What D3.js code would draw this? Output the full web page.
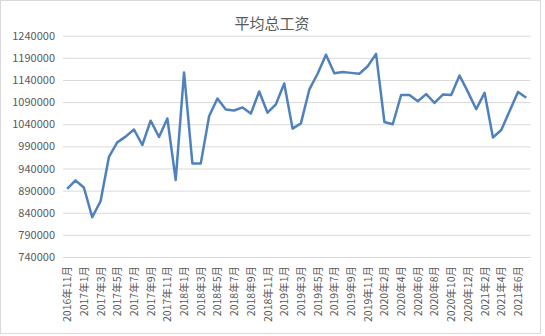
<!DOCTYPE html>
<html>
<head>
<meta charset="utf-8">
<script src="https://cdn.jsdelivr.net/npm/d3@7"></script>
<style>
  body { margin: 0; background: #fff; }
  svg text { font-family: "Noto Sans CJK SC", "Noto Sans", sans-serif; }
</style>
</head>
<body>
<div id="chart"></div>
<script>
// months (2020-01 is missing in the source)
var months = [
  "2016年11月","2016年12月",
  "2017年1月","2017年2月","2017年3月","2017年4月","2017年5月","2017年6月",
  "2017年7月","2017年8月","2017年9月","2017年10月","2017年11月","2017年12月",
  "2018年1月","2018年2月","2018年3月","2018年4月","2018年5月","2018年6月",
  "2018年7月","2018年8月","2018年9月","2018年10月","2018年11月","2018年12月",
  "2019年1月","2019年2月","2019年3月","2019年4月","2019年5月","2019年6月",
  "2019年7月","2019年8月","2019年9月","2019年10月","2019年11月","2019年12月",
  "2020年2月","2020年3月","2020年4月","2020年5月","2020年6月","2020年7月",
  "2020年8月","2020年9月","2020年10月","2020年11月","2020年12月",
  "2021年1月","2021年2月","2021年3月","2021年4月","2021年5月","2021年6月","2021年7月"
];

var wages = [
  894000, 913000, 897000, 830000, 866000, 966000, 999000, 1012000, 1028000, 993000,
  1048000, 1011000, 1053000, 914000, 1157000, 951000, 951000, 1058000, 1098000, 1073000,
  1071000, 1078000, 1064000, 1114000, 1066000, 1085000, 1132000, 1030000, 1042000, 1118000,
  1154000, 1197000, 1155000, 1158000, 1156000, 1154000, 1171000, 1199000, 1045000, 1040000,
  1106000, 1106000, 1092000, 1108000, 1088000, 1107000, 1106000, 1150000, 1113000, 1074000,
  1111000, 1010000, 1027000, 1070000, 1113000, 1100000
];

var yTicks = [740000, 790000, 840000, 890000, 940000, 990000, 1040000, 1090000, 1140000, 1190000, 1240000];

var width = 545, height = 336;
var plotLeft = 63, plotRight = 530.5, plotTop = 35.7, plotBottom = 257;

var svg = d3.select("#chart").append("svg")
    .attr("width", width)
    .attr("height", height);

svg.append("rect")
    .attr("x", 0.5).attr("y", 0.5)
    .attr("width", 540).attr("height", 333)
    .attr("fill", "#fff")
    .attr("stroke", "#d9d9d9");

svg.append("text")
    .attr("x", 272)
    .attr("y", 29)
    .attr("text-anchor", "middle")
    .attr("font-size", "15px")
    .attr("fill", "#595959")
    .text("平均总工资");

var x = d3.scaleBand()
    .domain(months)
    .range([plotLeft, plotRight]);

var y = d3.scaleLinear()
    .domain([740000, 1240000])
    .range([plotBottom, plotTop]);

// gridlines + y labels
var yAxis = d3.axisLeft(y)
    .tickValues(yTicks)
    .tickSize(-(plotRight - plotLeft))
    .tickPadding(8)
    .tickFormat(d3.format("d"));

var gy = svg.append("g")
    .attr("transform", "translate(" + plotLeft + ",0)")
    .call(yAxis);
gy.select(".domain").remove();
gy.selectAll("line").attr("stroke", "#d9d9d9");
gy.selectAll("text")
    .attr("font-size", "11px")
    .attr("fill", "#595959");

// x labels, every other month, rotated
var xAxis = d3.axisBottom(x)
    .tickValues(months.filter(function(d, i) { return i % 2 == 0; }))
    .tickSize(0)
    .tickPadding(0);

var gx = svg.append("g")
    .attr("transform", "translate(0," + plotBottom + ")")
    .call(xAxis);
gx.select(".domain").remove();
gx.selectAll("text")
    .attr("font-size", "10.5px")
    .attr("fill", "#595959")
    .attr("text-anchor", "end")
    .attr("dy", null)
    .attr("y", 0)
    .attr("transform", "translate(4,9) rotate(-90)");

var line = d3.line()
    .x(function(d, i) { return x(months[i]) + x.bandwidth() / 2; })
    .y(function(d) { return y(d); });

svg.append("path")
    .datum(wages)
    .attr("d", line)
    .attr("fill", "none")
    .attr("stroke", "#4f81bd")
    .attr("stroke-width", 2.5)
    .attr("stroke-linejoin", "round");
</script>
</body>
</html>
